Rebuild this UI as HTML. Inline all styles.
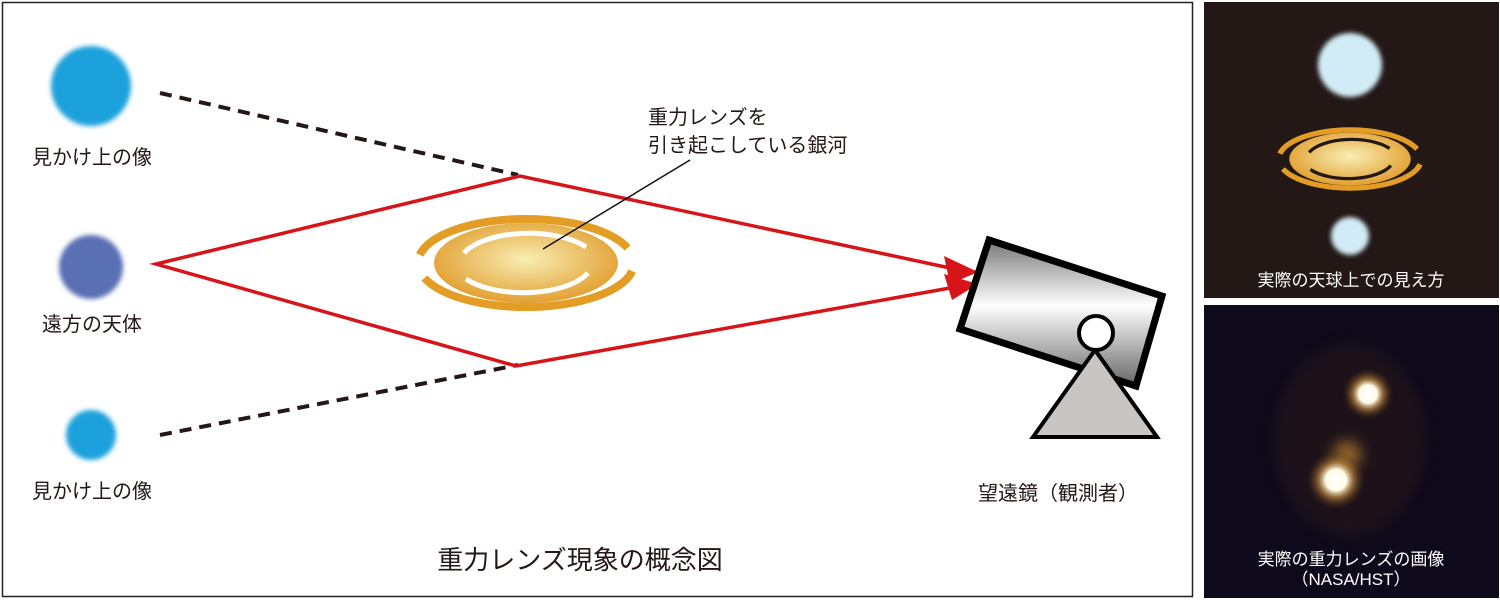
<!DOCTYPE html>
<html><head><meta charset="utf-8"><style>
html,body{margin:0;padding:0;background:#fff}
svg{display:block}
text{font-family:"Liberation Sans","Noto Sans CJK JP",sans-serif}
</style></head><body>
<svg width="1500" height="600" viewBox="0 0 1500 600" xmlns="http://www.w3.org/2000/svg">
<defs>
<radialGradient id="core" cx="50%" cy="45%" r="55%"><stop offset="0" stop-color="#f8eeb4"/><stop offset="1" stop-color="#e2a032"/></radialGradient>
<linearGradient id="tube" x1="0" y1="0" x2="0" y2="1"><stop offset="0" stop-color="#777"/><stop offset="0.45" stop-color="#fff"/><stop offset="1" stop-color="#666"/></linearGradient>
<filter id="blur"><feGaussianBlur stdDeviation="2.5"/></filter>
<filter id="blur2" x="-100%" y="-100%" width="300%" height="300%"><feGaussianBlur stdDeviation="7"/></filter>
<radialGradient id="star" cx="50%" cy="50%" r="50%"><stop offset="0" stop-color="#fff"/><stop offset="0.35" stop-color="#fffbe8"/><stop offset="0.6" stop-color="#c89040" stop-opacity="0.6"/><stop offset="1" stop-color="#3a2010" stop-opacity="0"/></radialGradient>
</defs>
<rect x="2.5" y="2.5" width="1190" height="594" fill="#fff" stroke="#222" stroke-width="1.5"/>
<line x1="160" y1="93" x2="518" y2="175" stroke="#231815" stroke-width="4" stroke-dasharray="12,8"/>
<line x1="160" y1="435" x2="518" y2="365" stroke="#231815" stroke-width="4" stroke-dasharray="12,8"/>
<circle cx="91" cy="86" r="40" fill="#1fa1dc" filter="url(#blur)"/>
<circle cx="91" cy="267" r="32" fill="#5a70b4" filter="url(#blur)"/>
<circle cx="91" cy="435" r="25" fill="#1fa1dc" filter="url(#blur)"/>
<text x="92" y="164" font-size="20" text-anchor="middle" fill="#231815">見かけ上の像</text>
<text x="92" y="331" font-size="20" text-anchor="middle" fill="#231815">遠方の天体</text>
<text x="92" y="498" font-size="20" text-anchor="middle" fill="#231815">見かけ上の像</text>
<!-- galaxy main -->
<g transform="translate(526,263)">
  <ellipse cx="0" cy="0" rx="92" ry="40" fill="url(#core)"/>
  <path d="M-101.5,15 A108,44 0 1 1 101.5,15" fill="none" stroke="#e39d25" stroke-width="8"/>
  <path d="M101.5,-15 A108,44 0 1 1 -101.5,-15" fill="none" stroke="#e39d25" stroke-width="8"/>
  <path d="M-101.5,15 A108,44 0 0 1 -106,-8" fill="none" stroke="#fff" stroke-width="9"/>
  <path d="M101.5,-15 A108,44 0 0 1 106,8" fill="none" stroke="#fff" stroke-width="9"/>
  <path d="M-62,-10 A70,32 0 0 1 60,-16" fill="none" stroke="#fff" stroke-width="5"/>
  <path d="M62,10 A70,32 0 0 1 -60,16" fill="none" stroke="#fff" stroke-width="5"/>
</g>
<polyline points="950,268 520,176 156,264 516,366 950,288" fill="none" stroke="#d7141a" stroke-width="3.5"/>
<polygon points="978,272 944,256 950,284" fill="#d7141a"/>
<polygon points="978,284 944,274 952,300" fill="#d7141a"/>
<line x1="543" y1="249" x2="690" y2="160" stroke="#111" stroke-width="1.5"/>
<text x="648" y="124" font-size="20" fill="#231815">重力レンズを</text>
<text x="648" y="152" font-size="20" fill="#231815">引き起こしている銀河</text>
<polygon points="989,240 1162,296 1136,386 960,329" fill="url(#tube)" stroke="#000" stroke-width="7"/>
<polygon points="1095,350 1033,437 1157,437" fill="#c9c5c3" stroke="#000" stroke-width="4"/>
<circle cx="1096" cy="333" r="17" fill="#fff" stroke="#000" stroke-width="4"/>
<text x="1058" y="500" font-size="20" text-anchor="middle" fill="#231815">望遠鏡（観測者）</text>
<text x="580" y="569" font-size="26" text-anchor="middle" fill="#231815">重力レンズ現象の概念図</text>
<rect x="1204" y="2" width="295" height="296" fill="#231815"/>
<circle cx="1350" cy="65" r="32" fill="#d2ecf7" filter="url(#blur)"/>
<circle cx="1350" cy="236" r="19" fill="#d2ecf7" filter="url(#blur)"/>
<g transform="translate(1350,159) scale(0.66)">
  <ellipse cx="0" cy="0" rx="92" ry="40" fill="url(#core)"/>
  <path d="M-101.5,15 A108,44 0 1 1 101.5,15" fill="none" stroke="#e39d25" stroke-width="8"/>
  <path d="M101.5,-15 A108,44 0 1 1 -101.5,-15" fill="none" stroke="#e39d25" stroke-width="8"/>
  <path d="M-101.5,15 A108,44 0 0 1 -106,-8" fill="none" stroke="#231815" stroke-width="9"/>
  <path d="M101.5,-15 A108,44 0 0 1 106,8" fill="none" stroke="#231815" stroke-width="9"/>
  <path d="M-62,-10 A70,32 0 0 1 60,-16" fill="none" stroke="#231815" stroke-width="5"/>
  <path d="M62,10 A70,32 0 0 1 -60,16" fill="none" stroke="#231815" stroke-width="5"/>
</g>
<text x="1351" y="286" font-size="17" text-anchor="middle" fill="#fff">実際の天球上での見え方</text>
<rect x="1204" y="305" width="295" height="293" fill="#0e0a1c"/>
<ellipse cx="1350" cy="440" rx="75" ry="95" fill="#3a2418" opacity="0.35" filter="url(#blur2)"/>
<circle cx="1347" cy="455" r="14" fill="#c88a30" opacity="0.7" filter="url(#blur2)"/>
<circle cx="1368" cy="394" r="26" fill="url(#star)"/>
<circle cx="1336" cy="480" r="30" fill="url(#star)"/>
<text x="1351" y="565" font-size="17" text-anchor="middle" fill="#fff">実際の重力レンズの画像</text>
<text x="1351" y="585" font-size="17" text-anchor="middle" fill="#fff">（NASA/HST）</text>
</svg>
</body></html>
